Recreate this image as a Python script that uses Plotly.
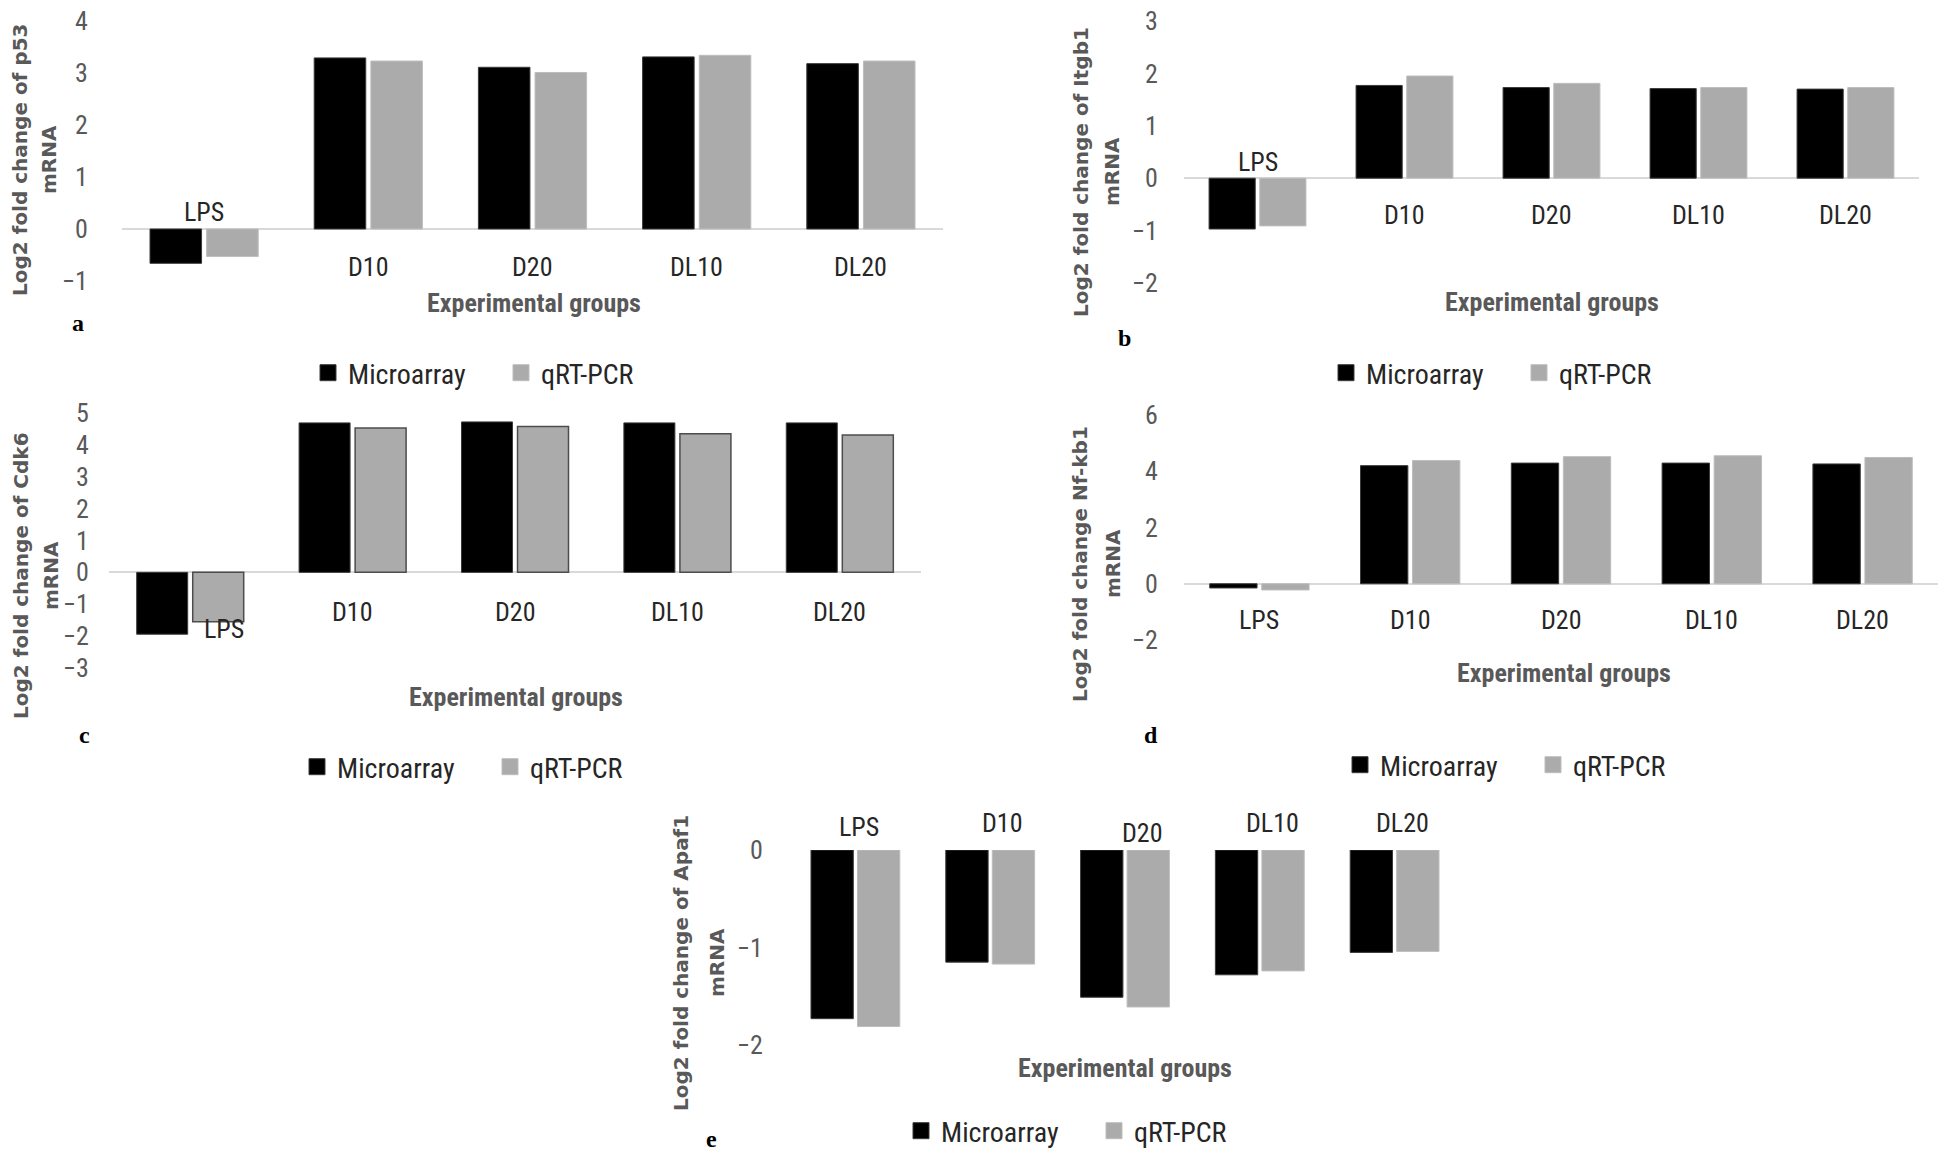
import plotly.graph_objects as go

# the page body adds an 8 px margin, so the figure is drawn 8 px in from the corner
PAGE_W, PAGE_H, BODY = 1946, 1161, 8
W, H = PAGE_W - 2 * BODY, PAGE_H - 2 * BODY

groups = ["LPS", "D10", "D20", "DL10", "DL20"]

p53_micro = [-0.66, 3.29, 3.11, 3.31, 3.18]
p53_qpcr = [-0.53, 3.23, 3.01, 3.34, 3.23]
itgb1_micro = [-0.97, 1.77, 1.73, 1.71, 1.70]
itgb1_qpcr = [-0.91, 1.95, 1.81, 1.73, 1.73]
cdk6_micro = [-1.94, 4.69, 4.72, 4.69, 4.69]
cdk6_qpcr = [-1.55, 4.53, 4.58, 4.35, 4.31]
nfkb1_micro = [-0.15, 4.20, 4.29, 4.29, 4.26]
nfkb1_qpcr = [-0.22, 4.38, 4.52, 4.55, 4.49]
apaf1_micro = [-1.73, -1.15, -1.51, -1.28, -1.05]
apaf1_qpcr = [-1.81, -1.17, -1.61, -1.24, -1.04]

NARROW = "Liberation Sans Narrow, Arial Narrow, Roboto Condensed, Liberation Sans, sans-serif"
WIDE = "DejaVu Sans, Liberation Sans, sans-serif"
SERIF = "Liberation Serif, Times New Roman, serif"
GREY_TXT = "#595959"
BLACK = "#000000"
QPCR = "#ababab"

# panel layout, in pixels of the 1946x1161 page
panels = [
    dict(micro=p53_micro, qpcr=p53_qpcr, box=(122, 943, 21, 281), yr=(-1, 4), zero=True, tl=28,
         ytitle=("Log2 fold change of p53", "mRNA"), yt=(20, 49, 160), xt=(534, 303),
         letter=("a", 78, 323), leg=(308, 373),
         lab_dy=[17, -38, -38, -38, -38], lab_dx=[0, 0, 0, 0, 0], qline=None),
    dict(micro=itgb1_micro, qpcr=itgb1_qpcr, box=(1184, 1919, 21, 283), yr=(-2, 3), zero=True, tl=20,
         ytitle=("Log2 fold change of Itgb1", "mRNA"), yt=(1081, 1112, 172), xt=(1552, 302),
         letter=("b", 1124, 338), leg=(1326, 373),
         lab_dy=[16, -37, -37, -37, -37], lab_dx=[0, 0, 0, 0, 0], qline=None),
    dict(micro=cdk6_micro, qpcr=cdk6_qpcr, box=(109, 921, 413, 668), yr=(-3, 5), zero=True, tl=14,
         ytitle=("Log2 fold change of Cdk6", "mRNA"), yt=(21, 51, 576), xt=(516, 697),
         letter=("c", 84, 735), leg=(297, 767),
         lab_dy=[-57, -40, -40, -40, -40], lab_dx=[34, 0, 0, 0, 0], qline="#4d4d4d"),
    dict(micro=nfkb1_micro, qpcr=nfkb1_qpcr, box=(1184, 1938, 415, 640), yr=(-2, 6), zero=True, tl=20,
         ytitle=("Log2 fold change Nf-kb1", "mRNA"), yt=(1080, 1113, 564), xt=(1564, 673),
         letter=("d", 1151, 735), leg=(1340, 765),
         lab_dy=[-36, -36, -36, -36, -36], lab_dx=[0, 0, 0, 0, 0], qline=None),
    dict(micro=apaf1_micro, qpcr=apaf1_qpcr, box=(788, 1462, 850, 1045), yr=(-2, 0), zero=False, tl=19,
         ytitle=("Log2 fold change of Apaf1", "mRNA"), yt=(681, 717, 963), xt=(1125, 1068),
         letter=("e", 711, 1139), leg=(901, 1131),
         lab_dy=[23, 27, 17, 27, 27], lab_dx=[4, 12, 17, 13, 8], qline=None),
]

fig = go.Figure()
layout = dict(
    width=W, height=H,
    margin=dict(l=0, r=0, t=0, b=0, autoexpand=False),
    paper_bgcolor="white", plot_bgcolor="white",
    barmode="group", bargap=0.31, bargroupgap=0.09,
)
annotations = []


def px_x(v):
    return (v - BODY) / W


def px_y(v):
    return 1 - (v - BODY) / H


for i, p in enumerate(panels, start=1):
    sfx = "" if i == 1 else str(i)
    xa, ya = "x" + sfx, "y" + sfx
    leg = "legend" + sfx
    x0, x1, y0, y1 = p["box"]

    fig.add_trace(go.Bar(
        x=groups, y=p["micro"], name="Microarray", xaxis=xa, yaxis=ya,
        marker=dict(color=BLACK, line=dict(color="#3a3a3a", width=1)),
        showlegend=False,
    ))
    qline = dict(color=p["qline"], width=1.5) if p["qline"] else dict(color="#bdbdbd", width=1)
    fig.add_trace(go.Bar(
        x=groups, y=p["qpcr"], name="qRT-PCR", xaxis=xa, yaxis=ya,
        marker=dict(color=QPCR, line=qline),
        showlegend=False,
    ))
    # legend-only entries, so the swatches can be larger squares
    for name, col in (("Microarray", BLACK), ("qRT-PCR", QPCR)):
        fig.add_trace(go.Scatter(
            x=[None], y=[None], name=name, mode="markers", xaxis=xa, yaxis=ya,
            marker=dict(symbol="square", size=16, color=col,
                        line=dict(color="#3a3a3a" if col == BLACK else "#bdbdbd", width=1)),
            legend=leg,
        ))

    layout["xaxis" + sfx] = dict(
        domain=[px_x(x0), min(px_x(x1), 1)], anchor=ya, type="category",
        range=[-0.5, 4.5], showticklabels=False, showgrid=False,
        zeroline=False, showline=False, ticks="",
    )
    layout["yaxis" + sfx] = dict(
        domain=[px_y(y1), px_y(y0)], anchor=xa, range=list(p["yr"]),
        dtick=1 if i != 4 else 2, showgrid=False, showline=False,
        ticks="outside", ticklen=p["tl"], tickcolor="rgba(0,0,0,0)",
        ticklabeloverflow="allow",
        zeroline=p["zero"], zerolinecolor="#d9d9d9", zerolinewidth=2,
        tickfont=dict(family=NARROW, size=26, color=GREY_TXT),
    )
    layout[leg] = dict(
        orientation="h", x=px_x(p["leg"][0]), y=px_y(p["leg"][1]),
        xanchor="left", yanchor="middle", bgcolor="rgba(0,0,0,0)",
        font=dict(family=NARROW, size=28, color="#262626"),
        traceorder="normal", itemwidth=30, entrywidth=148,
    )

    # category labels placed next to the zero line, as in the source
    for g, dy, dx in zip(groups, p["lab_dy"], p["lab_dx"]):
        annotations.append(dict(
            x=g, y=0, xref=xa, yref=ya, text=g, showarrow=False,
            yshift=dy, xshift=dx, yanchor="middle",
            font=dict(family=NARROW, size=26, color="#262626"),
        ))
    # rotated two-line y title, one annotation per line
    lx1, lx2, ly = p["yt"]
    for line, lx in zip(p["ytitle"], (lx1, lx2)):
        annotations.append(dict(
            x=px_x(lx), y=px_y(ly), xref="paper", yref="paper",
            text="<b>" + line + "</b>", textangle=-90, showarrow=False,
            xanchor="center", yanchor="middle",
            font=dict(family=WIDE, size=20, color=GREY_TXT),
        ))
    annotations.append(dict(
        x=px_x(p["xt"][0]), y=px_y(p["xt"][1]), xref="paper", yref="paper",
        text="<b>Experimental groups</b>", showarrow=False,
        xanchor="center", yanchor="middle",
        font=dict(family=NARROW, size=26, color=GREY_TXT),
    ))
    lt, lx, ly = p["letter"]
    annotations.append(dict(
        x=px_x(lx), y=px_y(ly), xref="paper", yref="paper",
        text="<b>" + lt + "</b>", showarrow=False,
        xanchor="center", yanchor="middle",
        font=dict(family=SERIF, size=24, color=BLACK),
    ))

layout["annotations"] = annotations
fig.update_layout(**layout)
fig.write_html("out.html")
